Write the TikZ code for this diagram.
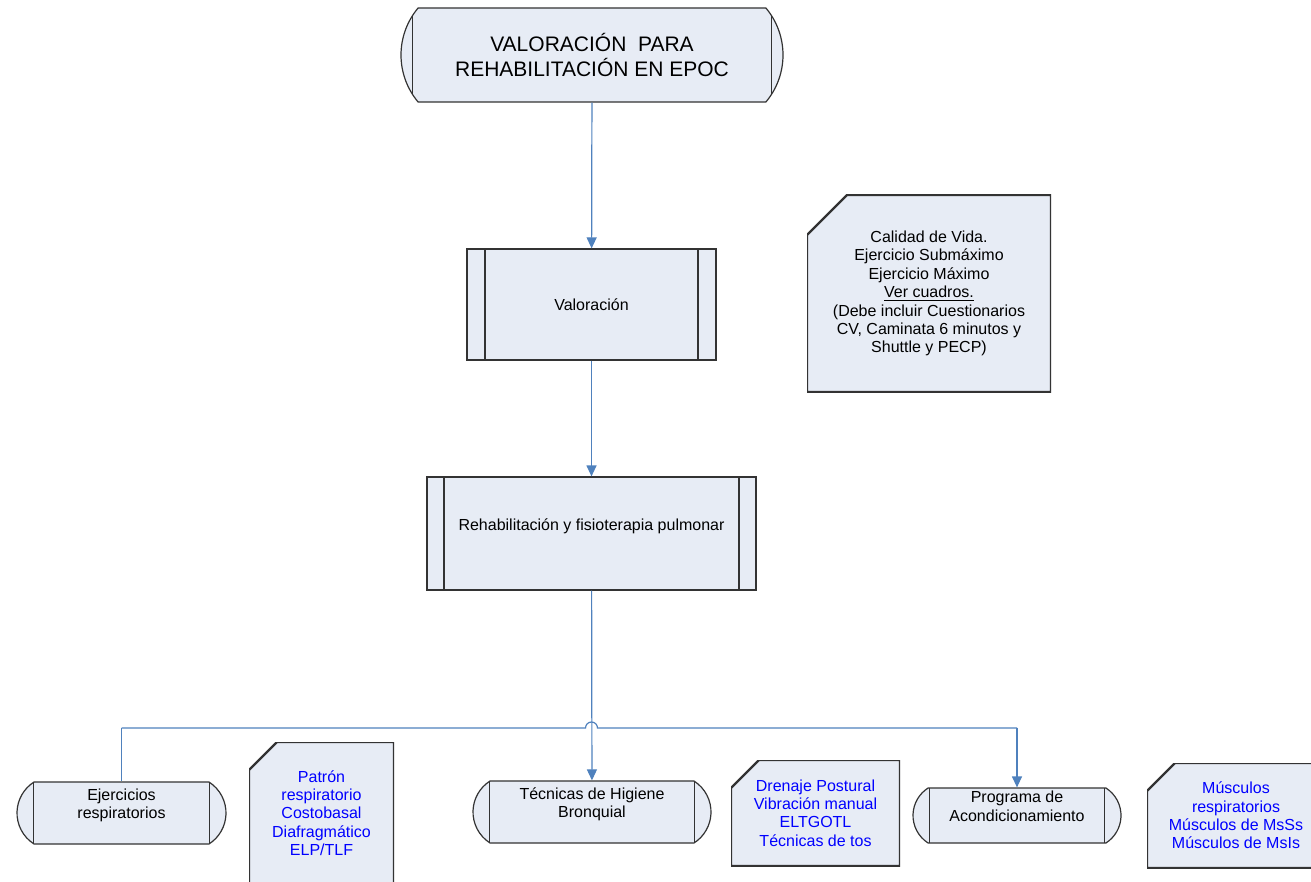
\documentclass[tikz,border=0pt]{standalone}
\usepackage{fontspec}
\setmainfont{Liberation Sans}
\usepackage{xcolor}
\usepackage{tikz}
\usetikzlibrary{arrows.meta,shapes.misc}
\definecolor{boxfill}{RGB}{231,236,245}
\definecolor{linkblue}{RGB}{79,129,189}
\tikzset{
  basebox/.style = {align=center, inner sep=0pt, text centered, draw=black!80,
    fill=boxfill, line width=0.6pt, font=\fontsize{8}{9.2}\selectfont},
  term_box/.style = {basebox, rounded rectangle, rounded rectangle arc length=115,
    path picture={\draw[black!80, line width=0.6pt]
      ([xshift=8.5pt]path picture bounding box.south west) -- ([xshift=8.5pt]path picture bounding box.north west)
      ([xshift=-8.5pt]path picture bounding box.south east) -- ([xshift=-8.5pt]path picture bounding box.north east);}},
  proc_box/.style = {basebox, rectangle,
    path picture={\draw[black!80, line width=0.6pt]
      ([xshift=#1]path picture bounding box.south west) -- ([xshift=#1]path picture bounding box.north west)
      ([xshift=-#1]path picture bounding box.south east) -- ([xshift=-#1]path picture bounding box.north east);}},
  note_box/.style = {align=center, inner sep=0pt, rectangle, font=\fontsize{8}{9.2}\selectfont,
    path picture={\filldraw[fill=boxfill, draw=black!80, line width=1.2pt]
      ([yshift=-#1]path picture bounding box.north west) -- ([xshift=#1]path picture bounding box.north west)
      -- (path picture bounding box.north east) -- (path picture bounding box.south east)
      -- (path picture bounding box.south west) -- cycle;}},
  blue_txt/.style = {text=blue},
  link/.style = {draw=linkblue, line width=0.6pt}
}

\begin{document}
\begin{tikzpicture}[x=0.5pt, y=-0.5pt, >={Triangle[length=5.5pt, width=5pt]}]
\useasboundingbox (0,0) rectangle (1311,882);

% main column
\node [term_box, rounded rectangle arc length=80, minimum width=191pt, minimum height=47pt,
  font=\fontsize{10.5}{12.2}\selectfont] (top) at (592,55)
  {VALORACIÓN~~PARA\\REHABILITACIÓN EN EPOC};
\node [proc_box=9pt, minimum width=124.5pt, minimum height=55.5pt] (val) at (591.5,304.5) {Valoración};
\node [proc_box=8.5pt, minimum width=164.5pt, minimum height=56.5pt] (rehab) at (591.5,533.5)
  {Rehabilitación y fisioterapia pulmonar\\~};
\node [note_box=20pt, minimum width=122pt, minimum height=98.5pt] (nota) at (929,293.5)
  {Calidad de Vida.\\Ejercicio Submáximo\\Ejercicio Máximo\\\underline{Ver cuadros.}\\(Debe incluir Cuestionarios\\CV, Caminata 6 minutos y\\Shuttle y PECP)};

% bottom row
\node [term_box, minimum width=104.5pt, minimum height=31pt] (ejer) at (121.5,813) {Ejercicios\\respiratorios\\~};
\node [note_box=14pt, blue_txt, minimum width=72.5pt, minimum height=71pt] (nota_ejer) at (321.5,813)
  {Patrón\\respiratorio\\Costobasal\\Diafragmático\\ELP/TLF};
\node [term_box, minimum width=119pt, minimum height=31pt] (tec) at (592,812) {Técnicas de Higiene\\Bronquial\\~};
\node [note_box=14pt, blue_txt, minimum width=84.5pt, minimum height=53pt] (nota_tec) at (815.5,813)
  {Drenaje Postural\\Vibración manual\\ELTGOTL\\Técnicas de tos};
\node [term_box, minimum width=104pt, minimum height=27.5pt] (prog) at (1017,815.5) {Programa de\\Acondicionamiento\\~};
\node [note_box=14pt, blue_txt, minimum width=89pt, minimum height=52.5pt] (nota_prog) at (1236,815.5)
  {Músculos\\respiratorios\\Músculos de MsSs\\Músculos de MsIs};

% connectors
\coordinate (hop) at (rehab.south |- 0,728);
\coordinate (bus_l) at (ejer.north |- hop);
\coordinate (bus_r) at (prog.north |- hop);
\draw [link, ->] (top) -- (val);
\draw [link, ->] (val) -- (rehab);
\draw [link, ->] (rehab) -- (tec);
\draw [link] (bus_l) -- ([xshift=-3pt]hop) arc[start angle=180, end angle=0, radius=3pt] -- (bus_r);
\draw [link] (bus_l) -- (ejer.north);
\draw [link, ->] (bus_r) -- (prog.north);
\end{tikzpicture}
\end{document}
